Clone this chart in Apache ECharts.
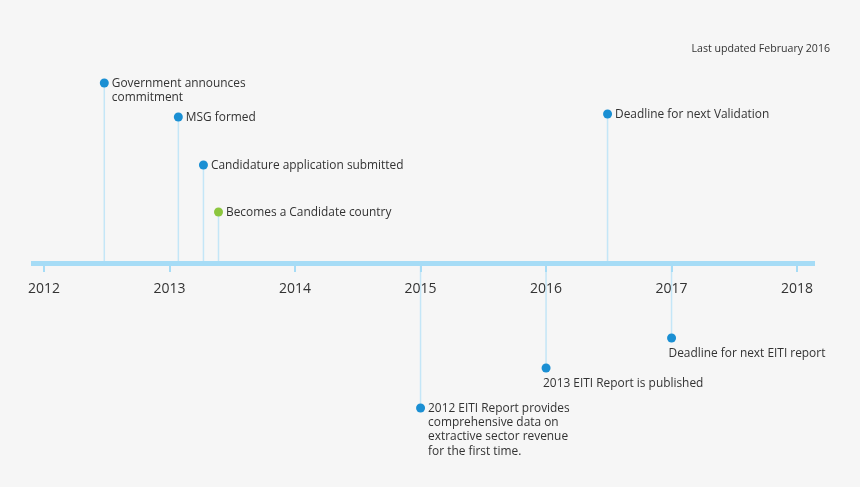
<!DOCTYPE html>
<html>
<head>
<meta charset="utf-8">
<script src="https://cdn.jsdelivr.net/npm/echarts@6/dist/echarts.min.js"></script>
<style>
  html, body { margin: 0; padding: 0; background: #f6f6f6; }
  #timeline { width: 860px; height: 487px; }
</style>
</head>
<body>
<div id="timeline"></div>
<script>
var chart = echarts.init(document.getElementById('timeline'));

// data
var years = [2012, 2013, 2014, 2015, 2016, 2017, 2018];
var eventNames = [
	'Government announces\ncommitment',
	'MSG formed',
	'Candidature application submitted',
	'Becomes a Candidate country',
	'Deadline for next Validation',
	'2012 EITI Report provides\ncomprehensive data on\nextractive sector revenue\nfor the first time.',
	'2013 EITI Report is published',
	'Deadline for next EITI report'
];
var eventDates = [2012.48, 2013.07, 2013.27, 2013.39, 2016.49, 2015.0, 2016.0, 2017.0];
// stem height of each event (above axis positive, below negative)
var eventLanes = [180, 146, 98, 51, 149, -145, -105, -75];
var eventKinds = ['step', 'step', 'step', 'candidate', 'step', 'step', 'step', 'step'];
// where the text goes relative to the dot (style only)
var labelPlaces = ['right', 'right', 'right', 'right', 'right', 'right', 'below', 'below'];

var kindColor = { step: '#1a8fd3', candidate: '#8cc63f' };

var seriesData = eventDates.map(function (d, i) {
	return [d, eventLanes[i], i];
});

var option = {
	backgroundColor: '#f6f6f6',
	animation: false,
	title: {
		text: 'Last updated February 2016',
		right: 25,
		top: 38,
		textStyle: {
			fontFamily: 'Open Sans',
			fontSize: 10.6,
			fontWeight: 'normal',
			color: '#333'
		}
	},
	// the grid ends at the timeline; events below it are drawn past the grid
	grid: {
		left: 31,
		right: 45,
		top: 0,
		bottom: 224,
		containLabel: false,
		outerBoundsMode: 'none'
	},
	xAxis: {
		type: 'value',
		min: 2011.896,
		max: 2018.143,
		z: 5,
		splitLine: { show: false },
		axisLine: {
			onZero: false,
			lineStyle: { color: '#a6dcf6', width: 5, cap: 'butt' }
		},
		axisTick: {
			customValues: years,
			length: 9,
			lineStyle: { color: '#a6dcf6', width: 2 }
		},
		axisLabel: {
			customValues: years,
			margin: 19,
			fontFamily: 'Open Sans',
			fontSize: 14,
			color: '#333',
			formatter: function (v) { return String(v); }
		}
	},
	yAxis: {
		type: 'value',
		min: 0,
		max: 263,
		show: false
	},
	series: [{
		type: 'custom',
		z: 1,
		clip: false,
		data: seriesData,
		renderItem: function (params, api) {
			var i = api.value(2);
			var base = api.coord([api.value(0), 0]);
			var pt = api.coord([api.value(0), api.value(1)]);
			var color = kindColor[eventKinds[i]];
			var lh = 14.3;
			var txt;
			if (labelPlaces[i] === 'right') {
				txt = { x: pt[0] + 7.5, y: pt[1] - lh / 2 + 0.5 };
			} else {
				txt = { x: pt[0] - 3, y: pt[1] + 8.5 };
			}
			return {
				type: 'group',
				children: [{
					type: 'line',
					shape: { x1: base[0], y1: base[1], x2: pt[0], y2: pt[1] },
					style: { stroke: '#c4e6f7', lineWidth: 1.5 }
				}, {
					type: 'circle',
					shape: { cx: pt[0], cy: pt[1], r: 4.5 },
					style: { fill: color }
				}, {
					type: 'text',
					style: {
						text: eventNames[i],
						x: txt.x,
						y: txt.y,
						verticalAlign: 'top',
						lineHeight: lh,
						fontFamily: 'Open Sans',
						fontSize: 11.9,
						fill: '#333'
					}
				}]
			};
		}
	}]
};

chart.setOption(option);
</script>
</body>
</html>
